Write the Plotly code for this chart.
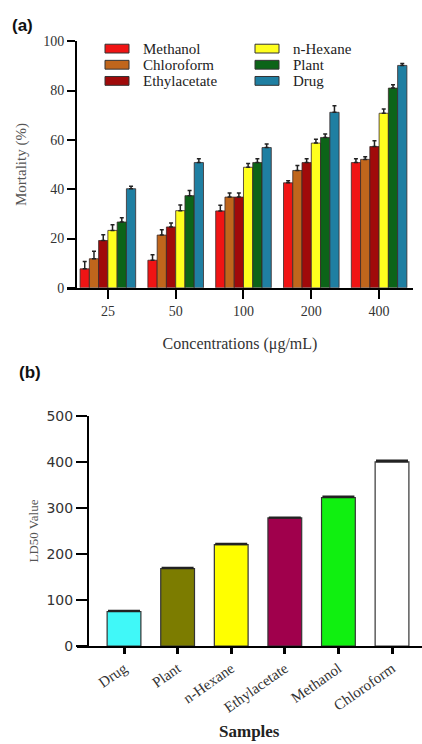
import plotly.graph_objects as go

# ---- Panel (a) data ----
concentrations = ["25", "50", "100", "200", "400"]
series_names = ["Methanol", "Chloroform", "Ethylacetate", "n-Hexane", "Plant", "Drug"]
methanol = [7.7, 11.2, 31.2, 42.6, 50.8]
chloroform = [11.8, 21.4, 36.8, 47.6, 52.1]
ethylacetate = [19.2, 24.7, 36.8, 50.8, 57.3]
nhexane = [23.3, 31.3, 48.9, 58.7, 70.8]
plant = [26.7, 37.4, 50.8, 61.0, 81.0]
drug = [40.2, 50.8, 56.9, 71.2, 90.2]
methanol_err = [3.0, 2.2, 2.3, 0.8, 1.6]
chloroform_err = [3.0, 2.2, 1.7, 2.0, 1.1]
ethylacetate_err = [2.3, 1.6, 1.7, 1.6, 2.4]
nhexane_err = [2.3, 2.3, 1.5, 1.6, 1.7]
plant_err = [1.7, 2.1, 1.6, 1.4, 1.4]
drug_err = [1.0, 1.6, 1.4, 2.6, 0.8]
series_colors = ["#f01414", "#c0661c", "#a00a0a", "#ffff1e", "#0c6418", "#1f7fa2"]

# ---- Panel (b) data ----
samples = ["Drug", "Plant", "n-Hexane", "Ethylacetate", "Methanol", "Chloroform"]
ld50 = [75, 168.5, 220.5, 278.5, 322.8, 400.5]
ld50_err = [2.0, 2.0, 2.5, 1.5, 2.5, 3.5]
sample_colors = ["#40f8f8", "#7c7c00", "#ffff00", "#a0004c", "#10f010", "#ffffff"]

W, H = 422, 744
def px(x):
    return x / W
def py(y):
    return 1 - y / H

serif = "Liberation Serif, Times New Roman, serif"

fig = go.Figure()

vals = [methanol, chloroform, ethylacetate, nhexane, plant, drug]
errs = [methanol_err, chloroform_err, ethylacetate_err, nhexane_err, plant_err, drug_err]
for i, name in enumerate(series_names):
    fig.add_trace(go.Bar(
        x=concentrations, y=vals[i], name=name, showlegend=False,
        marker=dict(color=series_colors[i], line=dict(color="#3a2a2a", width=0.8)),
        error_y=dict(type="data", array=errs[i], arrayminus=[0] * 5, symmetric=False,
                     color="#222222", thickness=1.5, width=2),
        xaxis="x", yaxis="y",
    ))

fig.add_trace(go.Bar(
    x=samples, y=ld50, width=0.63, showlegend=False,
    marker=dict(color=sample_colors, line=dict(color="#333333", width=1.2)),
    error_y=dict(type="data", array=ld50_err, arrayminus=[0] * 6, symmetric=False,
                 color="#222222", thickness=1.5, width=16),
    xaxis="x2", yaxis="y2",
))

axis_common = dict(showline=True, linecolor="black", linewidth=2, ticks="outside",
                   tickcolor="black", showgrid=False, zeroline=False)

# manual two-column legend (swatch + label) built from the series lists
shapes = []
annotations = []
col_x = [105, 255]
row_y = [41.5, 58, 74.5]
for i, name in enumerate(series_names):
    c, r = divmod(i, 3)
    x0 = col_x[c]
    yc = row_y[r]
    shapes.append(dict(type="rect", xref="paper", yref="paper",
                       x0=px(x0), x1=px(x0 + 24), y0=py(yc + 4.5), y1=py(yc - 4.5),
                       fillcolor=series_colors[i], line=dict(color="#333333", width=1)))
    annotations.append(dict(text=name, x=px(x0 + 36), y=py(yc), xref="paper", yref="paper",
                            xanchor="left", yanchor="middle", showarrow=False,
                            font=dict(family=serif, size=15, color="#222222")))

annotations += [
    dict(text="<b>(a)</b>", x=px(10), y=py(18), xref="paper", yref="paper",
         xanchor="left", yanchor="middle", showarrow=False,
         font=dict(family="Liberation Sans", size=17, color="#111111")),
    dict(text="<b>(b)</b>", x=px(17), y=py(372), xref="paper", yref="paper",
         xanchor="left", yanchor="middle", showarrow=False,
         font=dict(family="Liberation Sans", size=17, color="#111111")),
]

fig.update_layout(
    width=W, height=H, margin=dict(l=0, r=0, t=0, b=0),
    paper_bgcolor="white", plot_bgcolor="white",
    barmode="group", bargap=0.18, bargroupgap=0.0,
    showlegend=False,
    xaxis=dict(domain=[px(67), px(413)], range=[-0.603, 4.5], anchor="y",
               ticklen=9, tickwidth=2,
               tickfont=dict(family=serif, size=14, color="#333333"),
               title=dict(text="Concentrations (\u03bcg/mL)", standoff=20,
                          font=dict(family=serif, size=16, color="#333333")),
               **axis_common),
    yaxis=dict(domain=[py(286), py(34)], range=[0, 100], anchor="free", position=px(76),
               dtick=20, ticklen=8, tickwidth=2,
               tickfont=dict(family=serif, size=14, color="#333333"),
               title=dict(text="Mortality (%)", standoff=12,
                          font=dict(family=serif, size=15, color="#555555")),
               **axis_common),
    xaxis2=dict(domain=[px(77), px(421.5)], range=[-0.877, 5.55], anchor="y2",
                ticklen=6, tickwidth=2.5,
                tickangle=-35, tickfont=dict(family=serif, size=15, color="#333333"),
                title=dict(text="<b>Samples</b>", standoff=11,
                           font=dict(family=serif, size=17, color="#222222")),
                **axis_common),
    yaxis2=dict(domain=[py(652), py(417)], range=[0, 500], anchor="free", position=px(88),
                dtick=100, ticklen=11, tickwidth=1.5,
                tickfont=dict(family="DejaVu Sans", size=14, color="#333333"),
                title=dict(text="LD50 Value", standoff=4,
                           font=dict(family=serif, size=13, color="#555555")),
                **axis_common),
    shapes=shapes,
    annotations=annotations,
)

fig.write_html("out.html")
